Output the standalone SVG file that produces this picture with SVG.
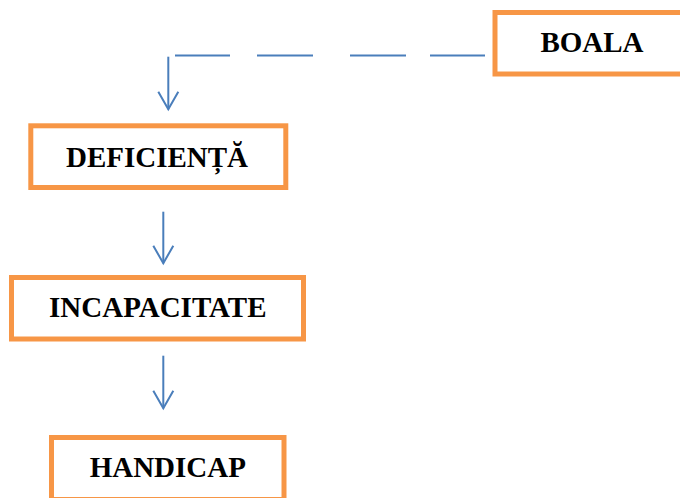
<svg xmlns="http://www.w3.org/2000/svg" width="680" height="498" viewBox="0 0 680 498">
<style>
.box{fill:#ffffff;stroke:#F79646;stroke-width:5}
.lbl{font-family:"Liberation Serif","Times New Roman",serif;font-weight:bold;font-size:29px;fill:#000000;text-anchor:middle}
.conn{fill:none;stroke:#4A7EBB;stroke-width:2}
</style>
<defs>
<marker id="arr" markerUnits="userSpaceOnUse" viewBox="-20 -12 22 24" refX="0" refY="0" markerWidth="22" markerHeight="24" orient="auto" overflow="visible">
<path d="M-17.6,-10 L0,0 L-17.6,10" fill="none" stroke="#4A7EBB" stroke-width="2"/>
</marker>
</defs>
<rect width="680" height="498" fill="#ffffff"/>
<g id="connectors">
<path class="conn" d="M175,55.5 H485" stroke-dasharray="55 27 56 37 56 24 56"/>
<path class="conn" d="M168.3,56.7 V109.3" marker-end="url(#arr)"/>
<path class="conn" d="M163.3,211.7 V263.3" marker-end="url(#arr)"/>
<path class="conn" d="M163.3,355.7 V408.3" marker-end="url(#arr)"/>
</g>
<g id="boala">
<rect class="box" x="495" y="12.5" width="200" height="61.5"/>
<text class="lbl" x="592" y="51.7">BOALA</text>
</g>
<g id="deficienta">
<rect class="box" x="30.8" y="125.8" width="255" height="61.7"/>
<text class="lbl" x="157" y="166.7">DEFICIENȚĂ</text>
</g>
<g id="incapacitate">
<rect class="box" x="11.5" y="277.5" width="292" height="61.5"/>
<text class="lbl" x="157.8" y="317.3">INCAPACITATE</text>
</g>
<g id="handicap">
<rect class="box" x="51.5" y="437.5" width="232.5" height="62"/>
<text class="lbl" x="167.8" y="476.7">HANDICAP</text>
</g>
</svg>
